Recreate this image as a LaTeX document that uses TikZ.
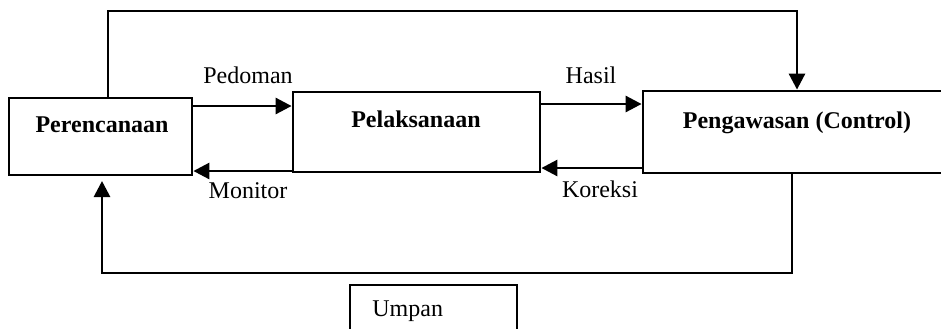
\documentclass[tikz,border=0pt]{standalone}
\usepackage{fontspec}
\setmainfont{Liberation Serif}
\usetikzlibrary{arrows.meta}
\begin{document}
\begin{tikzpicture}[x=0.5pt,y=-0.5pt,
  box/.style={draw,line width=1.4pt,inner sep=0pt},
  arr/.style={line width=1.4pt,-{Triangle[length=8pt,width=8pt]}},
  lbl/.style={font=\fontsize{12}{14}\selectfont,inner sep=0pt,anchor=base},
  ttl/.style={font=\fontsize{12}{14}\selectfont\bfseries,inner sep=0pt,anchor=base}]
\useasboundingbox (0,0) rectangle (941,328);
\clip (0,0) rectangle (941,328);
% boxes
\node[box,minimum width=91.5pt,minimum height=38.5pt] (per) at (100.5,136.5) {};
\node[box,minimum width=123.5pt,minimum height=40pt] (pel) at (416.5,132) {};
\node[box,minimum width=158.5pt,minimum height=41pt] (pen) at (801.5,132) {};
\node[box,minimum width=83.5pt,minimum height=27.5pt] (ump) at (433.5,312.5) {};
% text
\node[ttl] (tper) at (102,132) {Perencanaan};
\node[ttl] (tpel) at (416,127) {Pelaksanaan};
\node[ttl] (tpen) at (797,128) {Pengawasan (Control)};
\node[lbl,anchor=base west] (tump) at (372,316) {Umpan};
\node[lbl] (lped) at (248,83) {Pedoman};
\node[lbl] (lmon) at (248,198) {Monitor};
\node[lbl] (lhas) at (591,83) {Hasil};
\node[lbl] (lkor) at (600,197) {Koreksi};
% connectors
\draw[arr] (per.east |- 0,106) -- (pel.west |- 0,106);
\draw[arr] (pel.west |- 0,171) -- (per.east |- 0,171);
\draw[arr] (pel.east |- 0,104) -- (pen.west |- 0,104);
\draw[arr] (pen.west |- 0,168) -- (pel.east |- 0,168);
\draw[arr] (per.north -| 108,0) -- (108,11) -| (pen.north -| 797,0);
\coordinate (fb) at (102,181);
\draw[arr] (pen.south -| 792,0) -- (792,273) -| (fb);
\end{tikzpicture}
\end{document}
